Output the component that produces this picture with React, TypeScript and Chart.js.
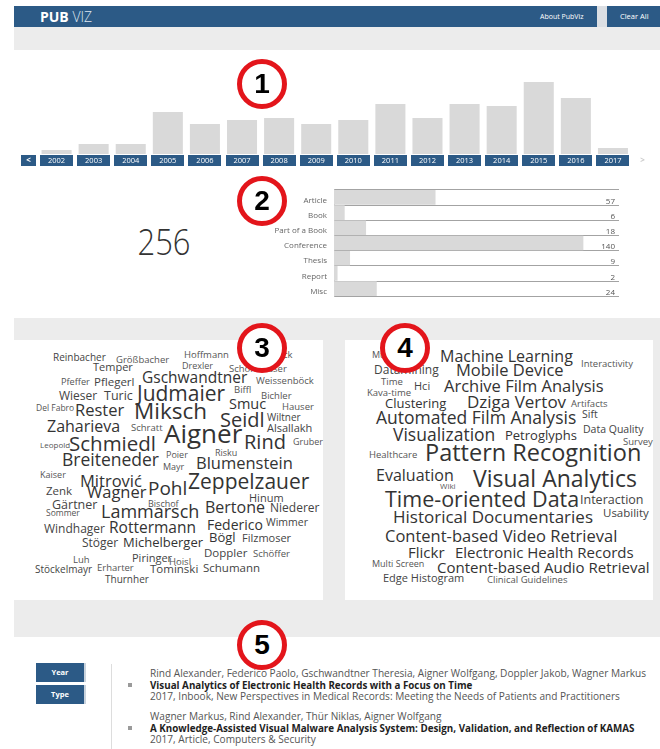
import React, { useEffect, useRef } from "react";
import { Chart, registerables } from "chart.js";

Chart.register(...registerables);

// ---------------- DATA ----------------
const years = ["2002", "2003", "2004", "2005", "2006", "2007", "2008", "2009", "2010", "2011", "2012", "2013", "2014", "2015", "2016", "2017"];
const yearCounts = [2, 5, 5, 21, 15, 17, 18, 15, 17, 25, 18, 25, 24, 36, 28, 3];

const types = ["Article", "Book", "Part of a Book", "Conference", "Thesis", "Report", "Misc"];
const typeCounts = [57, 6, 18, 140, 9, 2, 24];

const totalPublications = 256;

const authorNames = [
  "Reinbacher", "Größbacher", "Temper", "Pfeffer", "Pflegerl", "Gschwandtner", "Wieser", "Turic", "Judmaier",
  "Del Fabro", "Rester", "Miksch", "Zaharieva", "Schratt", "Aigner", "Leopold", "Schmiedl", "Breiteneder",
  "Hoffmann", "Drexler", "Schönhauser", "Haselböck", "Weissenböck", "Biffl", "Bichler", "Smuc", "Hauser",
  "Seidl", "Wiltner", "Alsallakh", "Rind", "Gruber", "Risku", "Poier", "Mayr", "Blumenstein", "Kaiser",
  "Mitrović", "Zenk", "Wagner", "Pohl", "Gärtner", "Sommer", "Bischof", "Lammarsch", "Windhager",
  "Rottermann", "Stöger", "Michelberger", "Luh", "Piringer", "Hoisl", "Stöckelmayr", "Erharter", "Tominski",
  "Thurnher", "Zeppelzauer", "Hinum", "Bertone", "Niederer", "Federico", "Wimmer", "Bögl", "Filzmoser",
  "Doppler", "Schöffer", "Schumann",
];
const authorWeights = [
  10, 9.5, 11, 9.2, 11.5, 15.5, 12, 12.5, 21,
  8.5, 16.5, 22.5, 16, 9.5, 26, 8, 20.5, 17.5,
  9.5, 9, 9.5, 9.5, 9.5, 9.5, 9.5, 14.5, 9.5,
  20, 10, 11, 20, 9, 9, 9, 9, 16.5, 9,
  16.5, 11.5, 16.5, 19, 12.5, 8.5, 9, 18, 12,
  15.5, 12, 13, 9.5, 11, 9.5, 10, 9.5, 11.5,
  10, 21, 11, 16, 12, 14, 10.5, 13, 11,
  11.5, 9.5, 11.5,
];

const keywordTerms = [
  "Multimedia", "Datamining", "Machine Learning", "Interactivity", "Mobile Device", "Time", "Hci", "Kava-time",
  "Archive Film Analysis", "Clustering", "Dziga Vertov", "Artifacts", "Sift", "Automated Film Analysis",
  "Data Quality", "Visualization", "Petroglyphs", "Survey", "Healthcare", "Pattern Recognition", "Evaluation",
  "Wiki", "Visual Analytics", "Time-oriented Data", "Interaction", "Usability", "Historical Documentaries",
  "Content-based Video Retrieval", "Flickr", "Electronic Health Records", "Multi Screen",
  "Content-based Audio Retrieval", "Edge Histogram", "Clinical Guidelines",
];
const keywordWeights = [
  9, 12, 16, 9.5, 16.5, 9.5, 11, 9.5,
  16.5, 13, 17, 9.5, 10.5, 17.5,
  10.5, 17.5, 13, 9.5, 9.5, 23.5, 16,
  8, 23, 21.5, 12.5, 11.5, 17,
  16.5, 15, 15, 9,
  15, 11, 9.5,
];

const publicationAuthors = [
  "Rind Alexander, Federico Paolo, Gschwandtner Theresia, Aigner Wolfgang, Doppler Jakob, Wagner Markus",
  "Wagner Markus, Rind Alexander, Thür Niklas, Aigner Wolfgang",
];
const publicationTitles = [
  "Visual Analytics of Electronic Health Records with a Focus on Time",
  "A Knowledge-Assisted Visual Malware Analysis System: Design, Validation, and Reflection of KAMAS",
];
const publicationInfo = [
  "2017, Inbook, New Perspectives in Medical Records: Meeting the Needs of Patients and Practitioners",
  "2017, Article, Computers & Security",
];

// ---------------- LAYOUT (word cloud placement: left x, baseline y) ----------------
const authorSpots: [number, number][] = [
  [53, 361], [116, 363], [93, 371], [61, 385], [94, 386], [142, 384], [59, 401], [104, 401], [137, 402],
  [36, 412], [75, 417], [134, 420], [47, 432], [131, 431], [164, 443], [40, 448], [69, 451], [62, 467],
  [184, 358], [182, 369], [229, 372], [247, 358], [256, 384], [234, 393], [261, 399], [229, 410], [282, 410],
  [220, 428], [267, 421], [267, 432], [244, 450], [293, 445], [215, 456], [166, 458], [163, 470], [196, 470],
  [40, 478], [80, 488], [46, 495], [87, 499], [148, 496], [52, 510], [46, 517], [148, 507], [101, 518],
  [44, 534], [109, 534], [82, 548], [123, 548], [73, 563], [132, 562], [169, 565], [35, 573], [97, 571],
  [150, 573], [105, 583], [188, 490], [249, 502], [205, 513], [270, 513], [207, 530], [266, 526], [209, 543],
  [242, 542], [204, 557], [253, 557], [203, 572],
];
const keywordSpots: [number, number][] = [
  [372, 358], [374, 375], [440, 362], [581, 367], [456, 377], [381, 385], [414, 390], [367, 396],
  [444, 393], [385, 409], [467, 408], [571, 407], [582, 418], [376, 425],
  [583, 433], [393, 442], [505, 441], [623, 445], [369, 458], [425, 462], [376, 481],
  [440, 489], [473, 487], [385, 507], [580, 505], [603, 517], [393, 523],
  [385, 543], [408, 558], [455, 558], [372, 567],
  [437, 573], [383, 582], [487, 583],
];

const FONT = '"Open Sans", "Noto Sans", "DejaVu Sans", sans-serif';
const BLUE = "#2c5a86";
const GRAY_BAND = "#ececec";
const BAR_GRAY = "#d9d9d9";
const RED = "#e3151b";

function YearChart() {
  const ref = useRef<HTMLCanvasElement | null>(null);
  useEffect(() => {
    if (!ref.current) return;
    const buttons = {
      id: "yearButtons",
      afterDraw(chart: any) {
        const ctx = chart.ctx;
        const xs = chart.scales.x;
        const area = chart.chartArea;
        const top = area.bottom + 1;
        const h = 11;
        const w = 33;
        ctx.save();
        ctx.font = `7.5px ${FONT}`;
        ctx.textAlign = "center";
        ctx.textBaseline = "middle";
        (chart.data.labels as string[]).forEach((lab, i) => {
          const cx = xs.getPixelForValue(i);
          ctx.fillStyle = BLUE;
          ctx.fillRect(Math.round(cx - w / 2), top, w, h);
          ctx.fillStyle = "#ffffff";
          ctx.fillText(lab, cx, top + h / 2 + 0.5);
        });
        const firstLeft = xs.getPixelForValue(0) - w / 2;
        ctx.fillStyle = BLUE;
        ctx.fillRect(Math.round(firstLeft - 4 - 15), top, 15, h);
        ctx.fillStyle = "#ffffff";
        ctx.font = `bold 8px ${FONT}`;
        ctx.fillText("<", firstLeft - 4 - 7.5, top + h / 2);
        const lastRight = xs.getPixelForValue(chart.data.labels.length - 1) + w / 2;
        ctx.fillStyle = "#cccccc";
        ctx.fillText(">", lastRight + 13, top + h / 2);
        ctx.restore();
      },
    };
    const chart = new Chart(ref.current, {
      type: "bar",
      data: {
        labels: years,
        datasets: [
          {
            data: yearCounts,
            backgroundColor: BAR_GRAY,
            borderWidth: 0,
            barPercentage: 0.81,
            categoryPercentage: 1,
          },
        ],
      },
      options: {
        animation: false,
        responsive: false,
        maintainAspectRatio: false,
        layout: { padding: { left: 24, right: 28.5, top: 10, bottom: 21 } },
        plugins: { legend: { display: false }, tooltip: { enabled: false } },
        scales: {
          x: { display: false },
          y: { display: false, min: 0, max: 47 },
        },
      },
      plugins: [buttons],
    } as any);
    return () => chart.destroy();
  }, []);
  return (
    <canvas
      ref={ref}
      width={646}
      height={125}
      style={{ position: "absolute", left: 14, top: 50, width: 646, height: 125 }}
    />
  );
}

function TypeChart() {
  const ref = useRef<HTMLCanvasElement | null>(null);
  useEffect(() => {
    if (!ref.current) return;
    const values = {
      id: "typeValues",
      afterDraw(chart: any) {
        const ctx = chart.ctx;
        const ys = chart.scales.y;
        const area = chart.chartArea;
        const pitch = (area.bottom - area.top) / chart.data.labels.length;
        ctx.save();
        ctx.font = `8px ${FONT}`;
        ctx.fillStyle = "#555555";
        ctx.textAlign = "right";
        ctx.textBaseline = "alphabetic";
        chart.data.datasets[0].data.forEach((v: number, i: number) => {
          const bottom = ys.getPixelForValue(i) + pitch / 2;
          ctx.fillText(String(v), area.right - 4, bottom - 1.5);
        });
        ctx.restore();
      },
    };
    const chart = new Chart(ref.current, {
      type: "bar",
      data: {
        labels: types,
        datasets: [
          {
            data: typeCounts,
            backgroundColor: BAR_GRAY,
            borderWidth: 0,
            barPercentage: 0.96,
            categoryPercentage: 1,
          },
        ],
      },
      options: {
        indexAxis: "y",
        animation: false,
        responsive: false,
        maintainAspectRatio: false,
        layout: { padding: { left: 0, right: 31, top: 7, bottom: 5 } },
        plugins: { legend: { display: false }, tooltip: { enabled: false } },
        scales: {
          x: { display: false, min: 0, max: 160 },
          y: {
            z: 1,
            grid: { offset: true, color: "#a3a3a3", drawTicks: false, lineWidth: 1 },
            border: { display: true, color: "#b5b5b5" },
            ticks: {
              font: { family: FONT, size: 8 },
              color: "#666666",
              padding: 7,
              autoSkip: false,
              labelOffset: 3,
            },
            afterFit: (s: any) => {
              s.width = 64;
            },
          },
        },
      },
      plugins: [values],
    } as any);
    return () => chart.destroy();
  }, []);
  return (
    <canvas
      ref={ref}
      width={380}
      height={130}
      style={{ position: "absolute", left: 270, top: 178, width: 380, height: 130 }}
    />
  );
}

function wordColor(w: number) {
  if (w < 10) return "#555555";
  if (w < 13) return "#444444";
  return "#333333";
}

function Cloud({ words, weights, spots }: { words: string[]; weights: number[]; spots: [number, number][] }) {
  return (
    <>
      {words.map((w, i) => {
        const size = weights[i];
        const [x, y] = spots[i];
        return (
          <span
            key={w + i}
            style={{
              position: "absolute",
              left: x,
              top: y - 0.888 * size,
              fontFamily: FONT,
              fontSize: size,
              lineHeight: `${size}px`,
              whiteSpace: "nowrap",
              color: wordColor(size),
            }}
          >
            {w}
          </span>
        );
      })}
    </>
  );
}

function Marker({ n, cx, cy }: { n: number; cx: number; cy: number }) {
  const d = 50;
  return (
    <div
      style={{
        position: "absolute",
        left: cx - d / 2,
        top: cy - d / 2,
        width: d,
        height: d,
        boxSizing: "border-box",
        borderRadius: "50%",
        border: `5px solid ${RED}`,
        background: "#ffffff",
        display: "flex",
        alignItems: "center",
        justifyContent: "center",
        fontFamily: '"Liberation Sans", Arial, sans-serif',
        fontWeight: 700,
        fontSize: 28,
        color: "#000",
        lineHeight: 1,
      }}
    >
      {n}
    </div>
  );
}

function Box({ l, t, w, h, bg }: { l: number; t: number; w: number; h: number; bg: string }) {
  return <div style={{ position: "absolute", left: l, top: t, width: w, height: h, background: bg }} />;
}

export default function App() {
  const pubTops = [668, 711];
  return (
    <div
      style={{
        position: "absolute",
        left: 0,
        top: 0,
        width: 660,
        height: 749,
        overflow: "hidden",
        background: "#ffffff",
        fontFamily: FONT,
      }}
    >
      {/* header */}
      <Box l={14} t={6} w={646} h={21} bg={BLUE} />
      <div
        style={{
          position: "absolute",
          left: 40,
          top: 6,
          height: 21,
          lineHeight: "21px",
          fontSize: 14,
          color: "#ffffff",
          whiteSpace: "nowrap",
        }}
      >
        <span style={{ fontWeight: 700 }}>PUB</span>
        <span style={{ fontWeight: 300, color: "#dfe7f0" }}> VIZ</span>
      </div>
      <div style={{ position: "absolute", left: 540, top: 6, lineHeight: "21px", fontSize: 7, color: "#fff", whiteSpace: "nowrap" }}>
        About PubViz
      </div>
      <Box l={597} t={6} w={10} h={21} bg="#dcdfe3" />
      <div style={{ position: "absolute", left: 620, top: 6, lineHeight: "21px", fontSize: 7.5, color: "#fff", whiteSpace: "nowrap" }}>
        Clear All
      </div>

      {/* grey bands */}
      <Box l={14} t={27} w={646} h={23} bg={GRAY_BAND} />
      <Box l={14} t={318} w={646} h={22} bg={GRAY_BAND} />
      <Box l={323} t={340} w={22} h={260} bg={GRAY_BAND} />
      <Box l={653} t={340} w={7} h={260} bg={GRAY_BAND} />
      <Box l={14} t={600} w={646} h={37} bg={GRAY_BAND} />

      {/* charts */}
      <YearChart />
      <TypeChart />

      {/* total */}
      <div
        style={{
          position: "absolute",
          left: 114,
          top: 220,
          width: 100,
          textAlign: "center",
          fontSize: 36,
          fontWeight: 300,
          lineHeight: "44px",
          color: "#333",
          transform: "scaleX(0.86)",
        }}
      >
        {totalPublications}
      </div>

      {/* word clouds */}
      <Cloud words={authorNames} weights={authorWeights} spots={authorSpots} />
      <Cloud words={keywordTerms} weights={keywordWeights} spots={keywordSpots} />

      {/* publication list */}
      <div
        style={{
          position: "absolute",
          left: 36,
          top: 663,
          width: 48,
          height: 19,
          background: BLUE,
          color: "#fff",
          fontSize: 7.5,
          fontWeight: 700,
          lineHeight: "19px",
          textAlign: "center",
          boxShadow: "2px 0 0 #c9d3dd",
        }}
      >
        Year
      </div>
      <div
        style={{
          position: "absolute",
          left: 36,
          top: 685,
          width: 48,
          height: 19,
          background: BLUE,
          color: "#fff",
          fontSize: 7.5,
          fontWeight: 700,
          lineHeight: "19px",
          textAlign: "center",
          boxShadow: "2px 0 0 #c9d3dd",
        }}
      >
        Type
      </div>
      <Box l={111} t={664} w={1} h={85} bg="#dddddd" />
      {publicationTitles.map((t, i) => (
        <React.Fragment key={t}>
          <Box l={128} t={pubTops[i] + 15} w={4} h={4} bg="#9a9a9a" />
          <div
            style={{
              position: "absolute",
              left: 150,
              top: pubTops[i],
              fontSize: 10.1,
              lineHeight: "11.5px",
              whiteSpace: "nowrap",
              color: "#555",
            }}
          >
            <div>{publicationAuthors[i]}</div>
            <div style={{ fontWeight: 700, color: "#1e1e1e", fontSize: 9.8 }}>{t}</div>
            <div>{publicationInfo[i]}</div>
          </div>
        </React.Fragment>
      ))}

      {/* annotation markers */}
      <Marker n={1} cx={262} cy={84} />
      <Marker n={2} cx={262} cy={201} />
      <Marker n={3} cx={262} cy={348} />
      <Marker n={4} cx={405} cy={348} />
      <Marker n={5} cx={262} cy={645} />
    </div>
  );
}
